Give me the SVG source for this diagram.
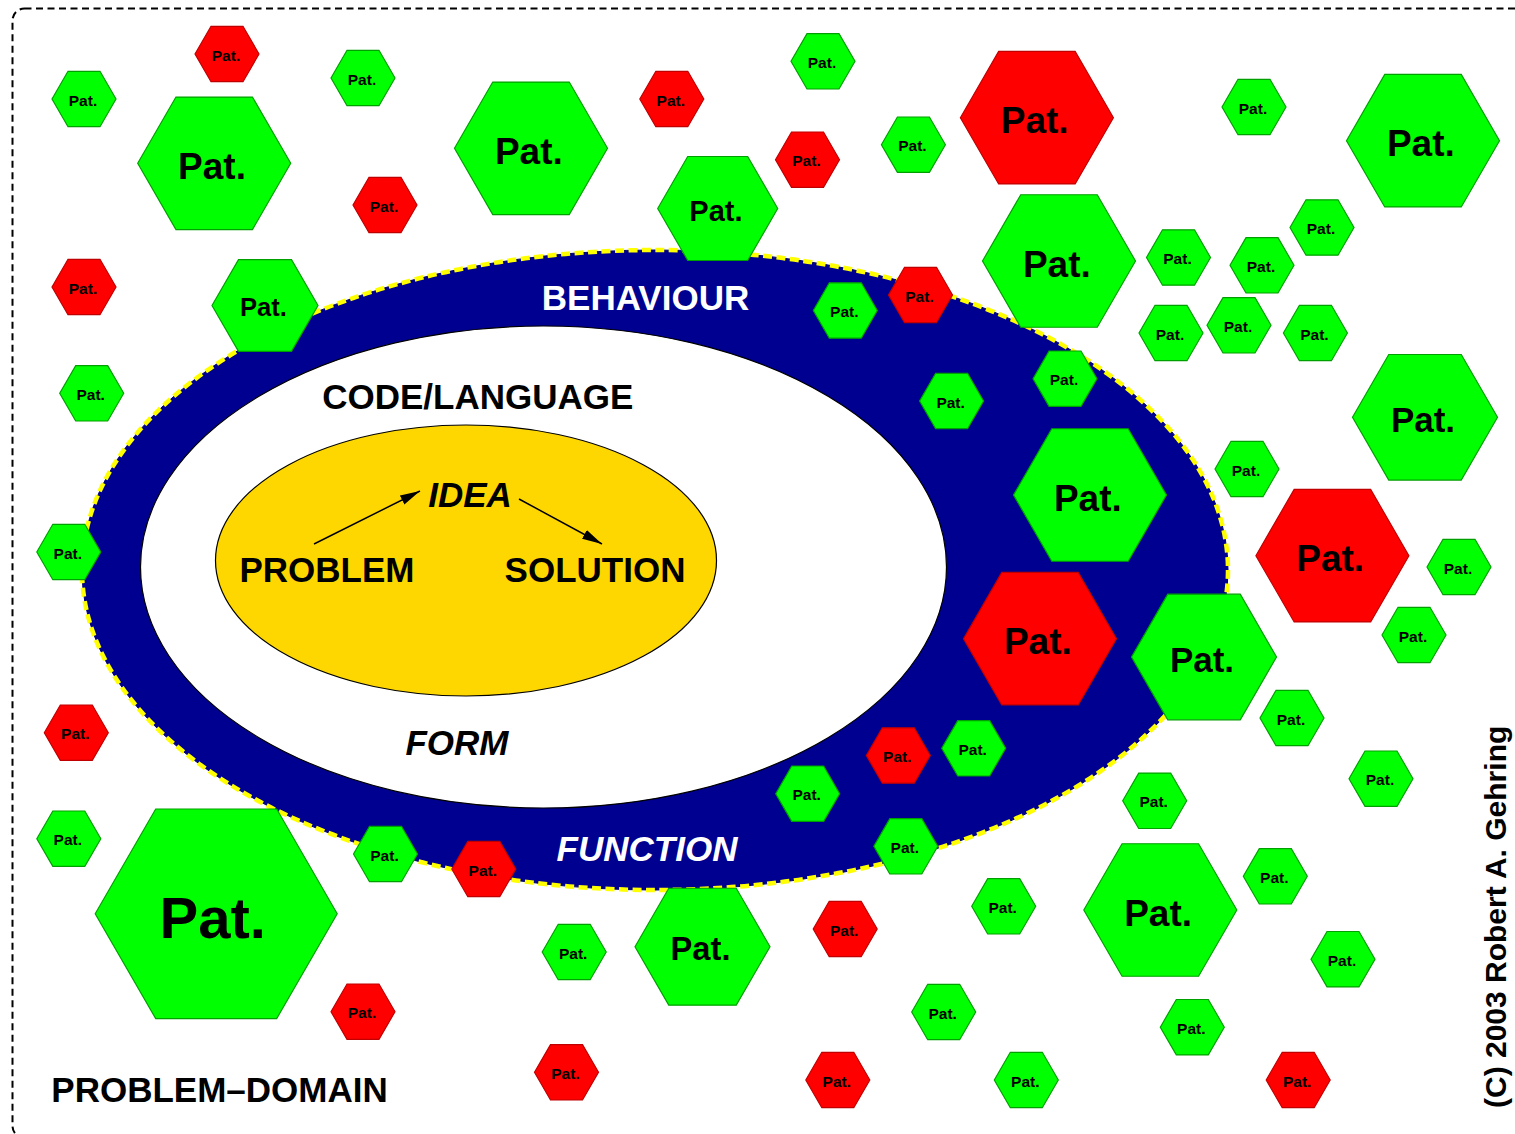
<svg xmlns="http://www.w3.org/2000/svg" width="1515" height="1134" viewBox="0 0 1515 1134">
<style>
.gr{fill:#00ff00;stroke:#00a000;stroke-width:1.2}
.rd{fill:#ff0000;stroke:#c00000;stroke-width:1.2}
text{font-family:"Liberation Sans",Arial,sans-serif;font-weight:bold;fill:#000}
.p{text-anchor:middle}
.ts{font-size:15.5px}
.t53{font-size:25.6px}
.t60{font-size:29px}
.t67{font-size:32.7px}
.t72{font-size:35px}
.t76{font-size:37px}
.t121{font-size:58px}
.lbl{font-size:35px;text-anchor:middle}
.it{font-style:italic}
.wh{fill:#fff}
.arr{stroke:#000;stroke-width:1.5;fill:none;marker-end:url(#ah)}
</style>
<defs>
<marker id="ah" markerUnits="userSpaceOnUse" markerWidth="21" markerHeight="11" refX="20" refY="5" orient="auto" viewBox="0 0 21 11">
<path d="M0,0 L20,5 L0,10 z" fill="#000"/>
</marker>
<polygon id="hs" points="-32,0 -16,-27.71 16,-27.71 32,0 16,27.71 -16,27.71"/>
<polygon id="h53" points="-53,0 -26.5,-45.9 26.5,-45.9 53,0 26.5,45.9 -26.5,45.9"/>
<polygon id="h60" points="-60,0 -30,-52 30,-52 60,0 30,52 -30,52"/>
<polygon id="h67" points="-67.5,0 -33.75,-58.46 33.75,-58.46 67.5,0 33.75,58.46 -33.75,58.46"/>
<polygon id="h72" points="-72.5,0 -36.25,-62.79 36.25,-62.79 72.5,0 36.25,62.79 -36.25,62.79"/>
<polygon id="h76" points="-76.5,0 -38.25,-66.25 38.25,-66.25 76.5,0 38.25,66.25 -38.25,66.25"/>
<polygon id="h121" points="-121,0 -60.5,-104.79 60.5,-104.79 121,0 60.5,104.79 -60.5,104.79"/>
</defs>
<rect x="0" y="0" width="1515" height="1134" fill="#fff"/>
<rect id="border" x="12.5" y="8.5" width="1540" height="1129.5" rx="12" fill="none" stroke="#000" stroke-width="2" stroke-dasharray="7 4.5"/>

<g id="behaviour-function-ring">
<ellipse cx="655" cy="570" rx="573" ry="320" fill="#000090" stroke="#000070" stroke-width="1"/>
<ellipse cx="655" cy="570" rx="573" ry="320" fill="none" stroke="#ffff00" stroke-width="4.5" stroke-dasharray="9 4.5"/>
</g>
<g id="code-language">
<ellipse cx="543.5" cy="567" rx="403" ry="241" fill="#fff" stroke="#000" stroke-width="1.2"/>
</g>
<g id="idea-core">
<ellipse cx="466" cy="560.5" rx="250.5" ry="135.5" fill="#ffd700" stroke="#000" stroke-width="1.2"/>
</g>

<g id="labels">
<text class="lbl wh" x="645.5" y="310">BEHAVIOUR</text>
<text class="lbl" x="477.8" y="409">CODE/LANGUAGE</text>
<text class="lbl it" x="470" y="507">IDEA</text>
<text class="lbl" x="327" y="582">PROBLEM</text>
<text class="lbl" x="595" y="582">SOLUTION</text>
<text class="lbl it" x="457" y="755">FORM</text>
<text class="lbl it wh" x="647" y="861">FUNCTION</text>
<text class="lbl" x="219.5" y="1102">PROBLEM–DOMAIN</text>
<text x="0" y="0" font-size="30" transform="translate(1506,1108) rotate(-90)">(C) 2003 Robert A. Gehring</text>
</g>

<g id="connectors">
<line class="arr" x1="314" y1="544" x2="420" y2="491"/>
<line class="arr" x1="519" y1="499" x2="602" y2="544"/>
</g>

<g id="patterns">
<g id="n1" transform="translate(84,99)"><use href="#hs" class="gr"/><text class="p ts" x="-1" y="6.5">Pat.</text></g>
<g id="n2" transform="translate(363,78)"><use href="#hs" class="gr"/><text class="p ts" x="-1" y="6.5">Pat.</text></g>
<g id="n3" transform="translate(823,61.3)"><use href="#hs" class="gr"/><text class="p ts" x="-1" y="6.5">Pat.</text></g>
<g id="n4" transform="translate(913.4,144.7)"><use href="#hs" class="gr"/><text class="p ts" x="-1" y="6.5">Pat.</text></g>
<g id="n5" transform="translate(1254,107)"><use href="#hs" class="gr"/><text class="p ts" x="-1" y="6.5">Pat.</text></g>
<g id="n6" transform="translate(1178.5,257.5)"><use href="#hs" class="gr"/><text class="p ts" x="-1" y="6.5">Pat.</text></g>
<g id="n7" transform="translate(1322,227.5)"><use href="#hs" class="gr"/><text class="p ts" x="-1" y="6.5">Pat.</text></g>
<g id="n8" transform="translate(1262,265.3)"><use href="#hs" class="gr"/><text class="p ts" x="-1" y="6.5">Pat.</text></g>
<g id="n9" transform="translate(1171,333)"><use href="#hs" class="gr"/><text class="p ts" x="-1" y="6.5">Pat.</text></g>
<g id="n10" transform="translate(1239,325.3)"><use href="#hs" class="gr"/><text class="p ts" x="-1" y="6.5">Pat.</text></g>
<g id="n11" transform="translate(1315.4,333)"><use href="#hs" class="gr"/><text class="p ts" x="-1" y="6.5">Pat.</text></g>
<g id="n12" transform="translate(91.7,393.3)"><use href="#hs" class="gr"/><text class="p ts" x="-1" y="6.5">Pat.</text></g>
<g id="n13" transform="translate(845.3,310.5)"><use href="#hs" class="gr"/><text class="p ts" x="-1" y="6.5">Pat.</text></g>
<g id="n14" transform="translate(951.6,401)"><use href="#hs" class="gr"/><text class="p ts" x="-1" y="6.5">Pat.</text></g>
<g id="n15" transform="translate(1065,378.7)"><use href="#hs" class="gr"/><text class="p ts" x="-1" y="6.5">Pat.</text></g>
<g id="n16" transform="translate(1247,469)"><use href="#hs" class="gr"/><text class="p ts" x="-1" y="6.5">Pat.</text></g>
<g id="n17" transform="translate(68.8,552)"><use href="#hs" class="gr"/><text class="p ts" x="-1" y="6.5">Pat.</text></g>
<g id="n18" transform="translate(1459,567)"><use href="#hs" class="gr"/><text class="p ts" x="-1" y="6.5">Pat.</text></g>
<g id="n19" transform="translate(1414,635)"><use href="#hs" class="gr"/><text class="p ts" x="-1" y="6.5">Pat.</text></g>
<g id="n20" transform="translate(1292,718)"><use href="#hs" class="gr"/><text class="p ts" x="-1" y="6.5">Pat.</text></g>
<g id="n21" transform="translate(973.7,748.3)"><use href="#hs" class="gr"/><text class="p ts" x="-1" y="6.5">Pat.</text></g>
<g id="n22" transform="translate(1381,778.7)"><use href="#hs" class="gr"/><text class="p ts" x="-1" y="6.5">Pat.</text></g>
<g id="n23" transform="translate(807.7,793.7)"><use href="#hs" class="gr"/><text class="p ts" x="-1" y="6.5">Pat.</text></g>
<g id="n24" transform="translate(1154.7,800.8)"><use href="#hs" class="gr"/><text class="p ts" x="-1" y="6.5">Pat.</text></g>
<g id="n25" transform="translate(68.8,838.7)"><use href="#hs" class="gr"/><text class="p ts" x="-1" y="6.5">Pat.</text></g>
<g id="n26" transform="translate(385.5,854)"><use href="#hs" class="gr"/><text class="p ts" x="-1" y="6.5">Pat.</text></g>
<g id="n27" transform="translate(905.8,846.3)"><use href="#hs" class="gr"/><text class="p ts" x="-1" y="6.5">Pat.</text></g>
<g id="n28" transform="translate(1275.3,876.3)"><use href="#hs" class="gr"/><text class="p ts" x="-1" y="6.5">Pat.</text></g>
<g id="n29" transform="translate(1003.7,906.3)"><use href="#hs" class="gr"/><text class="p ts" x="-1" y="6.5">Pat.</text></g>
<g id="n30" transform="translate(574.2,952)"><use href="#hs" class="gr"/><text class="p ts" x="-1" y="6.5">Pat.</text></g>
<g id="n31" transform="translate(1343,959.2)"><use href="#hs" class="gr"/><text class="p ts" x="-1" y="6.5">Pat.</text></g>
<g id="n32" transform="translate(943.7,1012)"><use href="#hs" class="gr"/><text class="p ts" x="-1" y="6.5">Pat.</text></g>
<g id="n33" transform="translate(1192.3,1027.2)"><use href="#hs" class="gr"/><text class="p ts" x="-1" y="6.5">Pat.</text></g>
<g id="n34" transform="translate(1026.3,1080)"><use href="#hs" class="gr"/><text class="p ts" x="-1" y="6.5">Pat.</text></g>

<g id="n35" transform="translate(227,54)"><use href="#hs" class="rd"/><text class="p ts" x="-1" y="6.5">Pat.</text></g>
<g id="n36" transform="translate(385,205)"><use href="#hs" class="rd"/><text class="p ts" x="-1" y="6.5">Pat.</text></g>
<g id="n37" transform="translate(671.8,99)"><use href="#hs" class="rd"/><text class="p ts" x="-1" y="6.5">Pat.</text></g>
<g id="n38" transform="translate(807.5,159.7)"><use href="#hs" class="rd"/><text class="p ts" x="-1" y="6.5">Pat.</text></g>
<g id="n39" transform="translate(84,287)"><use href="#hs" class="rd"/><text class="p ts" x="-1" y="6.5">Pat.</text></g>
<g id="n40" transform="translate(920.5,295)"><use href="#hs" class="rd"/><text class="p ts" x="-1" y="6.5">Pat.</text></g>
<g id="n41" transform="translate(76.3,732.7)"><use href="#hs" class="rd"/><text class="p ts" x="-1" y="6.5">Pat.</text></g>
<g id="n42" transform="translate(898.3,755.5)"><use href="#hs" class="rd"/><text class="p ts" x="-1" y="6.5">Pat.</text></g>
<g id="n43" transform="translate(483.8,869)"><use href="#hs" class="rd"/><text class="p ts" x="-1" y="6.5">Pat.</text></g>
<g id="n44" transform="translate(845.2,929)"><use href="#hs" class="rd"/><text class="p ts" x="-1" y="6.5">Pat.</text></g>
<g id="n45" transform="translate(363,1011.7)"><use href="#hs" class="rd"/><text class="p ts" x="-1" y="6.5">Pat.</text></g>
<g id="n46" transform="translate(566.5,1072.3)"><use href="#hs" class="rd"/><text class="p ts" x="-1" y="6.5">Pat.</text></g>
<g id="n47" transform="translate(837.8,1080)"><use href="#hs" class="rd"/><text class="p ts" x="-1" y="6.5">Pat.</text></g>
<g id="n48" transform="translate(1298.2,1080)"><use href="#hs" class="rd"/><text class="p ts" x="-1" y="6.5">Pat.</text></g>

<g id="n49" transform="translate(214.2,163.3)"><use href="#h76" class="gr"/><text class="p t76" x="-2.2" y="15.5">Pat.</text></g>
<g id="n50" transform="translate(531,148.3)"><use href="#h76" class="gr"/><text class="p t76" x="-2.2" y="15.5">Pat.</text></g>
<g id="n51" transform="translate(1423,140.7)"><use href="#h76" class="gr"/><text class="p t76" x="-2.2" y="15.5">Pat.</text></g>
<g id="n52" transform="translate(1059,261)"><use href="#h76" class="gr"/><text class="p t76" x="-2.2" y="15.5">Pat.</text></g>
<g id="n53" transform="translate(1090,495)"><use href="#h76" class="gr"/><text class="p t76" x="-2.2" y="15.5">Pat.</text></g>
<g id="n54" transform="translate(1160.3,910)"><use href="#h76" class="gr"/><text class="p t76" x="-2.2" y="15.5">Pat.</text></g>
<g id="n55" transform="translate(1036.9,117.7)"><use href="#h76" class="rd"/><text class="p t76" x="-2.2" y="15.5">Pat.</text></g>
<g id="n56" transform="translate(1332.4,555.7)"><use href="#h76" class="rd"/><text class="p t76" x="-2.2" y="15.5">Pat.</text></g>
<g id="n57" transform="translate(1040,638.7)"><use href="#h76" class="rd"/><text class="p t76" x="-2.2" y="15.5">Pat.</text></g>
<g id="n58" transform="translate(1204,657)"><use href="#h72" class="gr"/><text class="p t72" x="-2" y="14.7">Pat.</text></g>
<g id="n59" transform="translate(1425,417.3)"><use href="#h72" class="gr"/><text class="p t72" x="-2" y="14.7">Pat.</text></g>
<g id="n60" transform="translate(702.5,946.7)"><use href="#h67" class="gr"/><text class="p t67" x="-2" y="13.7">Pat.</text></g>
<g id="n61" transform="translate(717.7,208.5)"><use href="#h60" class="gr"/><text class="p t60" x="-1.8" y="12.2">Pat.</text></g>
<g id="n62" transform="translate(265,305.5)"><use href="#h53" class="gr"/><text class="p t53" x="-1.5" y="10.8">Pat.</text></g>
<g id="n63" transform="translate(216.2,913.8)"><use href="#h121" class="gr"/><text class="p t121" x="-3.5" y="24.4">Pat.</text></g>
</g>
</svg>
